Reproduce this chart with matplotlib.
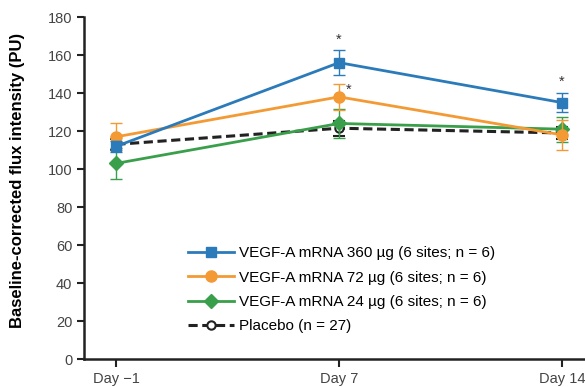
import matplotlib.pyplot as plt

plt.rcParams['font.family'] = ['Liberation Sans', 'DejaVu Sans']

day_labels = ['Day \u22121', 'Day 7', 'Day 14']

vegf_360 = [112, 156, 135]
vegf_360_err = [3, 6.5, 5]
vegf_72 = [117, 138, 118]
vegf_72_err = [7, 7, 8]
vegf_24 = [103, 124, 121]
vegf_24_err = [8, 7.5, 6.5]
placebo = [113, 121.5, 119]
placebo_err = [3, 4, 3]

x = list(range(len(day_labels)))  # time points are evenly spaced in the figure

fig = plt.figure(figsize=(5.85, 3.87), dpi=100)
ax = fig.add_axes([0.144, 0.072, 0.856, 0.884])

blue = '#2b7bba'
orange = '#f39a34'
green = '#3a9f4a'

# placebo first so coloured lines sit on top
ax.errorbar(x, placebo, yerr=placebo_err, color='#222222', ls='--', lw=2.2,
            marker='o', ms=6, mfc='white', mec='#222222', mew=1.5,
            capsize=4, elinewidth=1, dashes=(3, 1.5),
            label='Placebo (n = 27)', zorder=2)
ax.errorbar(x, vegf_24, yerr=vegf_24_err, color=green, lw=2, marker='D', ms=7,
            capsize=4, elinewidth=1, label='VEGF-A mRNA 24 \u00b5g (6 sites; n = 6)', zorder=3)
ax.errorbar(x, vegf_72, yerr=vegf_72_err, color=orange, lw=2, marker='o', ms=8,
            capsize=4, elinewidth=1, label='VEGF-A mRNA 72 \u00b5g (6 sites; n = 6)', zorder=4)
ax.errorbar(x, vegf_360, yerr=vegf_360_err, color=blue, lw=2, marker='s', ms=7,
            capsize=4, elinewidth=1, label='VEGF-A mRNA 360 \u00b5g (6 sites; n = 6)', zorder=5)

# significance stars
star = dict(ha='center', va='center', fontsize=10.5, color='#333333')
ax.text(1, 168, '*', **star)
ax.text(1.045, 141.5, '*', **star)
ax.text(2, 146, '*', **star)

ax.set_xlim(-0.144, 2.104)
ax.set_ylim(0, 180)
ax.set_yticks(range(0, 181, 20))
ax.set_xticks(x)
ax.set_xticklabels(day_labels)
ax.tick_params(labelsize=10.5, labelcolor='#444444', color='#222222', width=1.5, length=5)
ax.tick_params(axis='x', length=6)
for s in ['top', 'right']:
    ax.spines[s].set_visible(False)
for s in ['left', 'bottom']:
    ax.spines[s].set_linewidth(1.8)
    ax.spines[s].set_color('#222222')

ax.set_ylabel('Baseline-corrected flux intensity (PU)', fontsize=12, fontweight='bold')
ax.yaxis.set_label_coords(-0.118, 0.523)

handles, labels = ax.get_legend_handles_labels()
order = [3, 2, 1, 0]
ax.legend([handles[i][0] for i in order], [labels[i] for i in order],
          loc='lower left', bbox_to_anchor=(0.18, 0.035), frameon=False,
          fontsize=11, handlelength=3.0, handletextpad=0.3, labelspacing=0.68)

fig.savefig('out.png', dpi=100)
